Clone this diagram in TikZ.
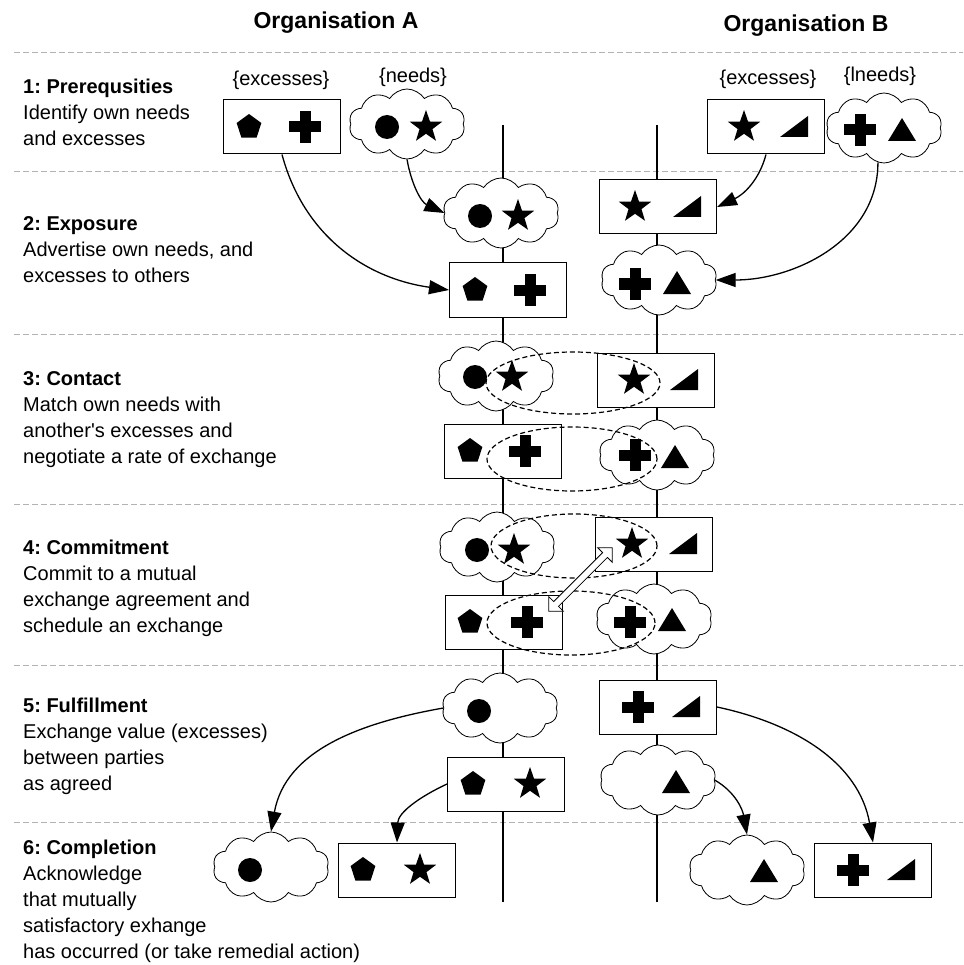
\documentclass[tikz,border=0pt]{standalone}
\usepackage{fontspec}
\setmainfont{Liberation Sans}
\usetikzlibrary{arrows.meta,calc,shapes.geometric,shapes.symbols,shapes.arrows}
\frenchspacing

% Symbols for the items that are exchanged
\tikzset{
  pics/pentagon/.style={code={\fill (90:13) -- (162:13) -- (234:13) -- (306:13) -- (18:13) -- cycle;}},
  pics/cross/.style={code={\fill (-16,-5.5) rectangle (16,5.5); \fill (-5.5,-16) rectangle (5.5,16);}},
  pics/dot/.style={code={\fill (0,0) circle [radius=12];}},
  pics/fivestar/.style={code={\node[star, star points=5, star point ratio=2.5, fill, inner sep=0, minimum size=34] {};}},
  pics/wedge/.style={code={\fill (-14,-10) -- (14,-10) -- (14,11) -- cycle;}},
  pics/peak/.style={code={\fill (-14,-11) -- (14,-11) -- (0,12) -- cycle;}},
}

\begin{document}
\begin{tikzpicture}[x=1pt, y=1pt,
  every node/.style={font=\fontsize{20}{26}\selectfont},
  heading/.style={font=\fontsize{23}{28}\selectfont\bfseries},
  phase/.style={anchor=base west, align=left, inner sep=0},
  excess/.style={draw, fill=white, line width=1pt, minimum width=117, minimum height=54, inner sep=0},
  need/.style={cloud, cloud puffs=10, cloud puff arc=115, aspect=1.7, draw, fill=white, line width=0.8pt, minimum width=116, minimum height=70, inner sep=0},
  divider/.style={gray!60, dash pattern=on 6pt off 3pt, line width=1pt},
  party/.style={line width=1.2pt},
  flow/.style={line width=1.3pt, -{Triangle[length=20pt, width=14pt]}},
  match/.style={dash pattern=on 5pt off 3pt, line width=1.2pt},
  swap/.style={double arrow, draw, fill=white, line width=0.8pt, inner sep=3pt, double arrow head extend=7pt, minimum height=90, rotate=45},
]
\useasboundingbox (0,0) rectangle (963,-965);
% Column headings
\node[heading] (orgA) at (336,-23) {Organisation A};
\node[heading] (orgB) at (806,-26) {Organisation B};
% Phase dividers
\foreach \y in {53,172,334,504,665,822}
  \draw[divider] (14,-\y) -- (963,-\y);
% Timelines of both parties
\coordinate (topA) at (503,-125);
\coordinate (endA) at (503,-902);
\coordinate (topB) at (657,-125);
\coordinate (endB) at (657,-902);
\draw[party] (topA) -- (endA);
\draw[party] (topB) -- (endB);
% Phase descriptions (placed at the baseline of their last line)
\node[phase] (phase1) at (23,-146) {\textbf{1: Prerequsities}\\Identify own needs\\and excesses};
\node[phase] (phase2) at (23,-283) {\textbf{2: Exposure}\\Advertise own needs, and\\excesses to others};
\node[phase] (phase3) at (23,-463) {\textbf{3: Contact}\\Match own needs with\\another\textquotesingle s excesses and\\negotiate a rate of exchange};
\node[phase] (phase4) at (23,-632) {\textbf{4: Commitment}\\Commit to a mutual\\exchange agreement and\\schedule an exchange};
\node[phase] (phase5) at (23,-790) {\textbf{5: Fulfillment}\\Exchange value (excesses)\\between parties\\as agreed};
\node[phase] (phase6) at (23,-958) {\textbf{6: Completion}\\Acknowledge\\that mutually\\satisfactory exhange\\has occurred (or take remedial action)};

% Phase 1
\node (lblExA) at (281,-80) {\{excesses\}};
\node (lblNeedA) at (413,-77) {\{needs\}};
\node (lblExB) at (768,-79) {\{excesses\}};
\node (lblNeedB) at (880,-76) {\{lneeds\}};
\node[excess] (exA1) at (282,-127) {};
\pic at ($(exA1)+(-33,0)$) {pentagon};
\pic at ($(exA1)+(23,0)$) {cross};
\node[need] (needA1) at (407,-124) {};
\pic at ($(needA1)+(-20,-3)$) {dot};
\pic at ($(needA1)+(19,-3)$) {fivestar};
\node[excess] (exB1) at (766,-127) {};
\pic at ($(exB1)+(-22,0)$) {fivestar};
\pic at ($(exB1)+(28,0)$) {wedge};
\node[need] (needB1) at (884,-128) {};
\pic at ($(needB1)+(-24,-2)$) {cross};
\pic at ($(needB1)+(18,-2)$) {peak};

% Phase 2
\node[need] (needA2) at (501,-213) {};
\pic at ($(needA2)+(-21,-3)$) {dot};
\pic at ($(needA2)+(17,-3)$) {fivestar};
\node[excess] (exA2) at (508,-290) {};
\pic at ($(exA2)+(-33,0)$) {pentagon};
\pic at ($(exA2)+(22,0)$) {cross};
\node[excess] (exB2) at (658,-207) {};
\pic at ($(exB2)+(-23,0)$) {fivestar};
\pic at ($(exB2)+(29,0)$) {wedge};
\node[need] (needB2) at (659,-280) {};
\pic at ($(needB2)+(-24,-4)$) {cross};
\pic at ($(needB2)+(18,-3)$) {peak};
\draw[flow] (exA1.south) to[out=-75, in=172] (exA2.west);
\draw[flow] (needA1.south) to[out=-80, in=155] (needA2.west);
\draw[flow] (exB1.south) to[out=-105, in=25] (exB2.east);
\draw[flow] (needB1.-100) to[out=-90, in=0] (needB2.east);

% Phase 3
\node[need] (needA3) at (496,-376) {};
\pic at ($(needA3)+(-21,-1)$) {dot};
\pic at ($(needA3)+(16,-1)$) {fivestar};
\node[excess] (exB3) at (656,-380) {};
\pic at ($(exB3)+(-22,0)$) {fivestar};
\pic at ($(exB3)+(28,0)$) {wedge};
\node[excess] (exA3) at (503,-451) {};
\pic at ($(exA3)+(-33,0)$) {pentagon};
\pic at ($(exA3)+(22,0)$) {cross};
\node[need] (needB3) at (657,-455) {};
\pic at ($(needB3)+(-22,0)$) {cross};
\pic at ($(needB3)+(18,-2)$) {peak};
\draw[match] (573,-383) ellipse [x radius=87, y radius=31];
\draw[match] (572,-459) ellipse [x radius=85, y radius=32];

% Phase 4
\node[need] (needA4) at (497,-547) {};
\pic at ($(needA4)+(-20,-3)$) {dot};
\pic at ($(needA4)+(17,-3)$) {fivestar};
\node[excess] (exB4) at (654,-544) {};
\pic at ($(exB4)+(-22,0)$) {fivestar};
\pic at ($(exB4)+(29,0)$) {wedge};
\node[excess] (exA4) at (504,-622) {};
\pic at ($(exA4)+(-34,0)$) {pentagon};
\pic at ($(exA4)+(23,0)$) {cross};
\node[need] (needB4) at (654,-619) {};
\pic at ($(needB4)+(-24,-3)$) {cross};
\pic at ($(needB4)+(18,-1)$) {peak};
\draw[match] (574,-546) ellipse [x radius=83, y radius=32];
\draw[match] (571,-623) ellipse [x radius=84, y radius=32];
\coordinate (swapA) at ($(exA4.north east)+(-14,-16)$);
\coordinate (swapB) at ($(exB4.south west)+(17,23)$);
\node[swap] (swap4) at ($(swapA)!0.5!(swapB)$) {};

% Phase 5
\node[need] (needA5) at (500,-708) {};
\pic at ($(needA5)+(-21,-3)$) {dot};
\node[excess] (exA5) at (506,-784) {};
\pic at ($(exA5)+(-33,0)$) {pentagon};
\pic at ($(exA5)+(24,0)$) {fivestar};
\node[excess] (exB5) at (658,-707) {};
\pic at ($(exB5)+(-20,0)$) {cross};
\pic at ($(exB5)+(28,0)$) {wedge};
\node[need] (needB5) at (658,-780) {};
\pic at ($(needB5)+(18,-2)$) {peak};

% Phase 6
\node[need] (needA6) at (271,-867) {};
\pic at ($(needA6)+(-21,-3)$) {dot};
\node[excess] (exA6) at (397,-870) {};
\pic at ($(exA6)+(-34,0)$) {pentagon};
\pic at ($(exA6)+(23,0)$) {fivestar};
\node[need] (needB6) at (747,-870) {};
\pic at ($(needB6)+(17,-1)$) {peak};
\node[excess] (exB6) at (873,-870) {};
\pic at ($(exB6)+(-20,0)$) {cross};
\pic at ($(exB6)+(28,0)$) {wedge};
\draw[flow] (needA5.west) to[out=190, in=80] (needA6.north);
\draw[flow] (exA5.west) to[out=205, in=88] (exA6.north);
\draw[flow] (exB5.east) to[out=-12, in=100] (exB6.north);
\draw[flow] (needB5.east) to[out=-30, in=100] (needB6.north);
\end{tikzpicture}
\end{document}
